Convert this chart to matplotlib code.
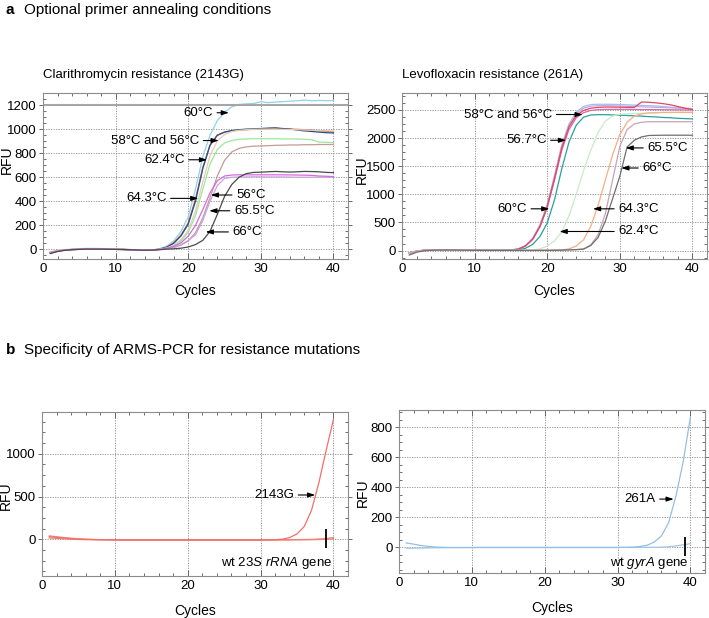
import numpy as np
import matplotlib.pyplot as plt
from matplotlib.ticker import MultipleLocator, AutoMinorLocator

plt.rcParams['font.family'] = ['Liberation Sans', 'DejaVu Sans']
plt.rcParams['mathtext.fontset'] = 'custom'
plt.rcParams['mathtext.rm'] = 'Liberation Sans'
plt.rcParams['mathtext.it'] = 'Liberation Sans:italic'

cycles = list(range(1, 41))

# --- a, Clarithromycin resistance (2143G) ---
clr_60 = [-25, -12, -5, 0, 3, 5, 5, 4, 3, 2, 0, -2, -5, -8, -6, 5, 25, 70, 150, 270,
          500, 770, 950, 1070, 1140, 1185, 1205, 1210, 1212, 1228, 1220, 1225, 1228, 1232, 1235, 1242, 1235, 1238, 1236, 1238]
clr_58 = [-30, -15, -6, -2, 0, 2, 2, 2, 1, 0, -1, -3, -5, -7, -6, 2, 18, 55, 120, 220,
          420, 680, 870, 950, 975, 985, 992, 995, 998, 1002, 1005, 1008, 1002, 1000, 998, 995, 992, 985, 982, 975]
clr_56 = [-28, -14, -5, -1, 1, 3, 3, 2, 1, 0, -1, -3, -5, -7, -6, 1, 16, 50, 112, 210,
          400, 670, 865, 948, 975, 988, 995, 1000, 1002, 1005, 1008, 1010, 1005, 1000, 992, 985, 980, 975, 970, 968]
clr_624 = [-20, -10, -4, 0, 2, 4, 4, 3, 2, 1, 0, -2, -4, -6, -5, 0, 10, 35, 80, 160,
           320, 560, 780, 900, 955, 980, 990, 995, 998, 1000, 1000, 1000, 998, 996, 995, 993, 990, 988, 986, 985]
clr_green = [-22, -8, -2, 2, 6, 8, 8, 7, 5, 3, 1, -1, -3, -5, -4, 1, 10, 30, 70, 140,
             280, 500, 710, 830, 885, 905, 915, 918, 920, 920, 920, 920, 918, 918, 918, 915, 912, 892, 890, 888]
clr_brown = [-25, -12, -5, -1, 2, 3, 3, 3, 2, 1, 0, -2, -4, -6, -5, -1, 5, 15, 35, 70,
             140, 260, 430, 610, 740, 810, 840, 852, 858, 860, 862, 865, 866, 868, 868, 870, 870, 872, 872, 872]
clr_lilac = [-30, -14, -6, -2, 1, 2, 2, 2, 1, 0, -1, -3, -5, -7, -6, -1, 6, 18, 40, 75,
             120, 240, 400, 530, 590, 600, 602, 602, 603, 603, 602, 602, 602, 601, 600, 600, 600, 600, 600, 600]
clr_magenta = [-28, -13, -5, -1, 2, 3, 3, 2, 1, 0, -1, -3, -5, -7, -6, 0, 8, 25, 55, 110,
               200, 330, 470, 570, 610, 618, 620, 620, 620, 620, 620, 620, 620, 619, 618, 617, 615, 610, 608, 605]
clr_66 = [-35, -18, -8, -3, 0, 2, 2, 2, 1, 0, -1, -3, -5, -7, -6, -3, 2, 5, 10, 20,
          40, 75, 150, 290, 440, 540, 600, 630, 640, 642, 645, 648, 645, 643, 645, 648, 647, 645, 640, 638]
clr_series = [clr_60, clr_58, clr_56, clr_624, clr_green, clr_brown, clr_lilac, clr_magenta, clr_66]
clr_colors = ['#8fd3ea', '#d9604a', '#25508f', '#e3cfae', '#9ee69a', '#c49a95', '#c9a2e0', '#d46be0', '#4a4a4a']
clr_threshold = 1200

# --- a, Levofloxacin resistance (261A) ---
lev_lblue = [-40, -10, 5, 12, 15, 15, 14, 12, 10, 8, 6, 5, 5, 5, 10, 30, 90, 220, 460, 820,
             1330, 1880, 2250, 2460, 2560, 2595, 2600, 2600, 2598, 2595, 2590, 2585, 2580, 2575, 2570, 2560, 2550, 2540, 2530, 2520]
lev_lilac = [-45, -12, 4, 12, 15, 15, 14, 12, 10, 8, 6, 5, 5, 5, 9, 28, 85, 210, 440, 800,
             1300, 1850, 2220, 2430, 2530, 2565, 2575, 2575, 2572, 2570, 2565, 2560, 2555, 2550, 2545, 2540, 2535, 2530, 2525, 2520]
lev_pink = [-42, -11, 4, 11, 14, 14, 13, 11, 9, 7, 5, 4, 4, 4, 8, 25, 80, 200, 420, 760,
            1250, 1780, 2150, 2360, 2450, 2490, 2505, 2508, 2510, 2510, 2510, 2508, 2506, 2505, 2504, 2503, 2502, 2501, 2500, 2500]
lev_red = [-38, -9, 6, 12, 15, 15, 14, 12, 10, 8, 6, 5, 5, 5, 8, 25, 80, 200, 430, 780,
           1280, 1820, 2200, 2400, 2490, 2530, 2545, 2550, 2550, 2548, 2545, 2545, 2640, 2635, 2625, 2610, 2590, 2560, 2530, 2505]
lev_teal = [-45, -15, 2, 10, 13, 13, 12, 10, 8, 6, 5, 4, 4, 4, 5, 10, 40, 110, 250, 490,
            900, 1450, 1930, 2230, 2370, 2410, 2415, 2415, 2410, 2405, 2400, 2395, 2390, 2380, 2375, 2365, 2360, 2350, 2345, 2340]
lev_green = [-40, -12, 3, 10, 14, 14, 13, 11, 9, 7, 5, 4, 4, 4, 4, 4, 5, 10, 30, 80,
             170, 330, 620, 1000, 1420, 1780, 2100, 2300, 2390, 2420, 2430, 2435, 2440, 2445, 2450, 2455, 2455, 2460, 2460, 2460]
lev_orange = [-42, -13, 2, 10, 14, 14, 13, 11, 9, 7, 5, 4, 4, 4, 4, 4, 4, 4, 5, 6,
              8, 10, 30, 80, 190, 430, 800, 1250, 1700, 2060, 2280, 2390, 2430, 2445, 2450, 2455, 2455, 2455, 2455, 2455]
lev_mauve = [-50, -16, 0, 8, 12, 12, 11, 9, 7, 5, 4, 3, 3, 3, 3, 3, 3, 3, 3, 4,
             5, 8, 12, 18, 30, 100, 280, 650, 1250, 1850, 2150, 2250, 2280, 2290, 2290, 2290, 2290, 2290, 2290, 2290]
lev_66 = [-80, -30, -5, 5, 10, 10, 9, 8, 6, 5, 4, 3, 3, 3, 3, 3, 3, 3, 3, 4,
          5, 8, 12, 16, 25, 90, 230, 520, 920, 1320, 1840, 1960, 2020, 2045, 2048, 2050, 2050, 2050, 2050, 2050]
lev_series = [lev_lblue, lev_lilac, lev_pink, lev_red, lev_teal, lev_green, lev_orange, lev_mauve, lev_66]
lev_colors = ['#9cc2ea', '#c6a6e6', '#d86aa8', '#e2485e', '#2a9f9f', '#c7ebc7', '#f6ae84', '#c8a2b4', '#6f6f6f']

# --- b, specificity ---
mut_2143g = [30, 22, 15, 8, 3, 0, -3, -5, -6, -7, -8, -8, -8, -8, -8, -8, -8, -8, -8, -8,
             -8, -8, -8, -8, -8, -8, -8, -8, -8, -8, -7, -5, 0, 20, 62, 150, 340, 660, 1040, 1400]
wt_23s_a = [40, 30, 20, 12, 5, 0, -3, -5, -6, -7, -8, -8, -8, -8, -8, -8, -8, -8, -8, -8,
            -8, -8, -8, -8, -8, -8, -8, -8, -8, -8, -8, -7, -6, -5, -4, -3, -2, 2, 8, 20]
wt_23s_b = [15, 10, 5, 0, -3, -5, -6, -7, -8, -9, -9, -9, -9, -9, -9, -9, -9, -9, -9, -9,
            -9, -9, -9, -9, -9, -9, -9, -9, -9, -9, -9, -9, -8, -8, -7, -6, -5, -3, 0, 5]
mut_261a = [30, 22, 13, 7, 3, 1, 0, 0, 0, 0, 0, 0, 0, 0, 0, 0, 0, 0, 0, 0,
            0, 0, 0, 0, 0, 0, 0, 0, 0, 0, 1, 2, 6, 14, 35, 75, 165, 340, 570, 870]
wt_gyra = [-5, -5, -4, -3, -2, -2, -1, -1, -1, -1, 0, 0, 0, 0, 0, 0, 0, 0, 0, 0,
           0, 0, 0, 0, 0, 0, 0, 0, 0, 0, 0, 0, 0, 1, 1, 2, 5, 10, 18, 25]
wt_marker_23s = (39.0, -105, 120)
wt_marker_gyra = (39.2, -55, 70)

FS = 9.5
GRID = '#8a8a8a'
fig = plt.figure(figsize=(7.09, 6.18), dpi=100)


def style(ax, ylim, ymajor, xlab_y, ylab_x, ylab_y):
    ax.set_xlim(0, 42)
    ax.set_ylim(*ylim)
    ax.xaxis.set_major_locator(MultipleLocator(10))
    ax.xaxis.set_minor_locator(MultipleLocator(2))
    ax.yaxis.set_major_locator(MultipleLocator(ymajor))
    ax.yaxis.set_minor_locator(AutoMinorLocator(4))
    ax.grid(True, which='major', color=GRID, linestyle=(0, (1.5, 1.5)), linewidth=0.6)
    for s in ax.spines.values():
        s.set_color('#8c8c8c')
        s.set_linewidth(0.8)
    ax.tick_params(which='both', top=True, right=True, labelsize=FS, color='#555555', width=0.6)
    ax.tick_params(axis='x', which='major', direction='in', length=4, pad=3)
    ax.tick_params(axis='x', which='minor', direction='in', length=2.5)
    ax.tick_params(axis='y', which='major', direction='out', length=3, pad=1.5)
    ax.tick_params(axis='y', which='minor', direction='in', length=2.5)
    ax.set_xlabel('Cycles', fontsize=FS + 0.5)
    ax.set_ylabel('RFU', fontsize=FS + 0.5)
    ax.xaxis.set_label_coords(0.5, xlab_y)
    ax.yaxis.set_label_coords(ylab_x, ylab_y)


def label(ax, txt, xy, xytext, ha):
    ax.annotate(txt, xy=xy, xytext=xytext, ha=ha, va='center', fontsize=FS,
                arrowprops=dict(arrowstyle='-|>,head_length=0.45,head_width=0.15',
                                color='black', lw=0.8, shrinkA=1, shrinkB=0))


# top-left
ax1 = fig.add_axes([0.0607, 0.5809, 0.4301, 0.2686])
ax1.axhline(clr_threshold, color='#a6a6a6', lw=1.5, zorder=2.5)
for ys, c in zip(clr_series, clr_colors):
    ax1.plot(cycles, ys, color=c, lw=0.9)
style(ax1, (-80, 1300), 200, -0.15, -0.095, 0.6)
label(ax1, '60°C', (25.6, 1136), (23.4, 1136), 'right')
label(ax1, '58°C and 56°C', (24.2, 905), (21.5, 905), 'right')
label(ax1, '62.4°C', (22.6, 745), (19.5, 745), 'right')
label(ax1, '64.3°C', (21.4, 424), (17.0, 424), 'right')
label(ax1, '56°C', (23.1, 452), (26.6, 452), 'left')
label(ax1, '65.5°C', (22.9, 321), (26.3, 321), 'left')
label(ax1, '66°C', (22.4, 145), (26.1, 145), 'left')

# top-right
ax2 = fig.add_axes([0.567, 0.5809, 0.4301, 0.2686])
for ys, c in zip(lev_series, lev_colors):
    ax2.plot(cycles, ys, color=c, lw=0.9)
style(ax2, (-150, 2800), 500, -0.15, -0.11, 0.54)
label(ax2, '58°C and 56°C', (24.9, 2418), (20.7, 2418), 'right')
label(ax2, '56.7°C', (22.6, 1960), (19.9, 1960), 'right')
label(ax2, '60°C', (20.3, 742), (17.2, 742), 'right')
label(ax2, '64.3°C', (26.3, 742), (29.8, 742), 'left')
label(ax2, '62.4°C', (21.7, 339), (29.8, 339), 'left')
label(ax2, '65.5°C', (30.8, 1824), (33.8, 1824), 'left')
label(ax2, '66°C', (30.2, 1467), (33.1, 1467), 'left')

# bottom-left
ax3 = fig.add_axes([0.0592, 0.068, 0.4316, 0.2654])
for ys, c in zip([wt_23s_a, wt_23s_b, mut_2143g], ['#f08a84', '#f27c76', '#f07068']):
    ax3.plot(cycles, ys, color=c, lw=0.9)
style(ax3, (-430, 1490), 500, -0.17, -0.095, 0.49)
ax3.vlines(wt_marker_23s[0], wt_marker_23s[1], wt_marker_23s[2], color='black', lw=1.3, zorder=5)
label(ax3, '2143G', (37.5, 518), (34.6, 518), 'right')
ax3.text(39.8, -275, r'wt $\it{23S\ rRNA}$ gene', ha='right', va='center', fontsize=FS)

# bottom-right
ax4 = fig.add_axes([0.5628, 0.0728, 0.4316, 0.2638])
for ys, c in zip([wt_gyra, mut_261a], ['#a2c8e6', '#93bfe3']):
    ax4.plot(cycles, ys, color=c, lw=0.9)
style(ax4, (-170, 915), 200, -0.17, -0.095, 0.49)
ax4.vlines(wt_marker_gyra[0], wt_marker_gyra[1], wt_marker_gyra[2], color='black', lw=1.3, zorder=5)
label(ax4, '261A', (37.7, 322), (35.2, 322), 'right')
ax4.text(39.7, -105, r'wt $\it{gyrA}$ gene', ha='right', va='center', fontsize=FS)

# headers
fig.text(0.008, 0.984, 'a', fontsize=11, fontweight='bold', va='center')
fig.text(0.034, 0.984, 'Optional primer annealing conditions', fontsize=11, va='center')
fig.text(0.008, 0.434, 'b', fontsize=11, fontweight='bold', va='center')
fig.text(0.034, 0.434, 'Specificity of ARMS-PCR for resistance mutations', fontsize=11, va='center')
fig.text(0.0607, 0.879, 'Clarithromycin resistance (2143G)', fontsize=FS, va='center')
fig.text(0.567, 0.879, 'Levofloxacin resistance (261A)', fontsize=FS, va='center')

fig.savefig('out.png', dpi=100)
